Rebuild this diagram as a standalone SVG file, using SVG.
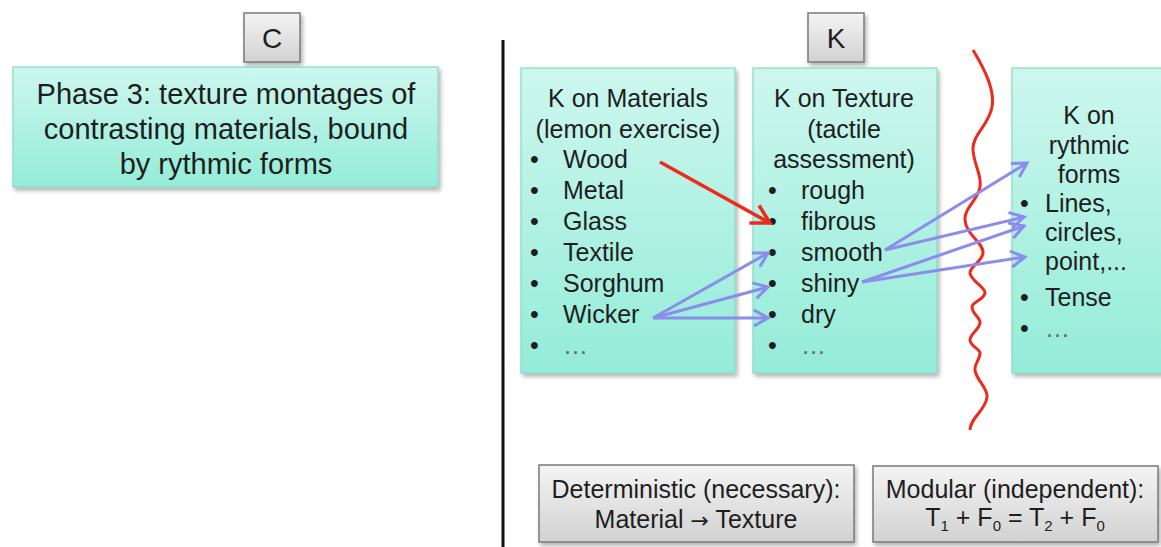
<svg xmlns="http://www.w3.org/2000/svg" width="1161" height="547" viewBox="0 0 1161 547">
<defs>
<linearGradient id="teal" x1="0" y1="0" x2="0" y2="1">
<stop offset="0" stop-color="#cdf7ee"/>
<stop offset="1" stop-color="#94ecd8"/>
</linearGradient>
<linearGradient id="gray" x1="0" y1="0" x2="0" y2="1">
<stop offset="0" stop-color="#f4f4f4"/>
<stop offset="1" stop-color="#d2d2d2"/>
</linearGradient>
<filter id="sh" x="-10%" y="-10%" width="130%" height="130%">
<feDropShadow dx="2" dy="3" stdDeviation="2" flood-color="#000" flood-opacity="0.3"/>
</filter>
<marker id="ab" viewBox="-20 -12 24 24" refX="0" refY="0" markerWidth="24" markerHeight="24" markerUnits="userSpaceOnUse" orient="auto">
<path d="M-14,-8 L0,0 L-14,8" fill="none" stroke="#8c8cec" stroke-width="3"/>
</marker>
<marker id="ar" viewBox="-24 -14 28 28" refX="0" refY="0" markerWidth="28" markerHeight="28" markerUnits="userSpaceOnUse" orient="auto">
<path d="M-18,-10 L0,0 L-18,10" fill="none" stroke="#ec2b1c" stroke-width="3.5"/>
</marker>
</defs>
<style>
.t{font-family:"Liberation Sans",Arial,sans-serif;fill:#1e1e1e}
.c{text-anchor:middle}
.teal{fill:url(#teal);stroke:#86d9c6;stroke-width:1.2;filter:url(#sh)}
.grey{fill:url(#gray);stroke:#7a7a7a;stroke-width:1.5;filter:url(#sh)}
.blue{fill:none;stroke:#8c8cec;stroke-width:3;marker-end:url(#ab)}
.dots{fill:#666}
</style>
<rect width="1161" height="547" fill="#fff"/>

<g id="c-label">
<rect class="grey" x="244" y="13" width="56" height="49"/>
<text class="t c" x="272" y="48" font-size="28">C</text>
</g>

<g id="phase3">
<rect class="teal" x="13" y="67" width="425" height="120"/>
<text class="t c" font-size="29"><tspan x="226" y="104">Phase 3: texture montages of</tspan><tspan x="226" y="139">contrasting materials, bound</tspan><tspan x="226" y="174">by rythmic forms</tspan></text>
</g>

<g id="divider">
<line x1="503" y1="40" x2="503" y2="547" stroke="#111" stroke-width="3"/>
</g>

<g id="k-label">
<rect class="grey" x="808" y="13" width="56" height="49"/>
<text class="t c" x="836" y="48" font-size="28">K</text>
</g>

<g id="materials">
<rect class="teal" x="521" y="68" width="214" height="305"/>
<text class="t c" font-size="25"><tspan x="628" y="107">K on Materials</tspan><tspan x="628" y="138">(lemon exercise)</tspan></text>
<text class="t" font-size="25">
<tspan x="530" y="168">•</tspan><tspan x="563" y="168">Wood</tspan>
<tspan x="530" y="199">•</tspan><tspan x="563" y="199">Metal</tspan>
<tspan x="530" y="230">•</tspan><tspan x="563" y="230">Glass</tspan>
<tspan x="530" y="261">•</tspan><tspan x="563" y="261">Textile</tspan>
<tspan x="530" y="292">•</tspan><tspan x="563" y="292">Sorghum</tspan>
<tspan x="530" y="323">•</tspan><tspan x="563" y="323">Wicker</tspan>
<tspan x="530" y="354">•</tspan><tspan x="563" y="354" class="dots">…</tspan>
</text>
</g>

<g id="texture">
<rect class="teal" x="753" y="68" width="184" height="305"/>
<text class="t c" font-size="25"><tspan x="844" y="107">K on Texture</tspan><tspan x="844" y="138">(tactile</tspan><tspan x="844" y="168">assessment)</tspan></text>
<text class="t" font-size="25">
<tspan x="768" y="199">•</tspan><tspan x="801" y="199">rough</tspan>
<tspan x="768" y="230">•</tspan><tspan x="801" y="230">fibrous</tspan>
<tspan x="768" y="261">•</tspan><tspan x="801" y="261">smooth</tspan>
<tspan x="768" y="292">•</tspan><tspan x="801" y="292">shiny</tspan>
<tspan x="768" y="323">•</tspan><tspan x="801" y="323">dry</tspan>
<tspan x="768" y="354">•</tspan><tspan x="801" y="354" class="dots">…</tspan>
</text>
</g>

<g id="forms">
<rect class="teal" x="1012" y="68" width="170" height="305"/>
<text class="t c" font-size="25"><tspan x="1089" y="124">K on</tspan><tspan x="1089" y="154">rythmic</tspan><tspan x="1089" y="183">forms</tspan></text>
<text class="t" font-size="25">
<tspan x="1020" y="212">•</tspan><tspan x="1045" y="212">Lines,</tspan>
<tspan x="1045" y="241">circles,</tspan>
<tspan x="1045" y="270">point,...</tspan>
<tspan x="1020" y="306">•</tspan><tspan x="1045" y="306">Tense</tspan>
<tspan x="1020" y="337">•</tspan><tspan x="1045" y="337" class="dots">…</tspan>
</text>
</g>

<g id="boundary">
<path d="M973,50 C985,70 995,90 992,107 C989,125 972,135 973,150 C974,165 982,175 980,187 C978,200 964,208 965,220 C966,235 984,243 983,253 C982,262 970,266 970,273 C970,280 986,288 985,293 C984,300 972,302 972,307 C972,314 981,318 980,323 C979,330 970,334 970,340 C970,346 980,349 980,353 C980,360 974,364 975,370 C976,380 988,388 987,397 C986,410 970,418 970,430" fill="none" stroke="#ec2b1c" stroke-width="3"/>
</g>

<g id="connectors">
<line x1="660" y1="162" x2="770" y2="223" fill="none" stroke="#ec2b1c" stroke-width="3.5" marker-end="url(#ar)"/>
<line class="blue" x1="653" y1="318" x2="768" y2="253"/>
<line class="blue" x1="653" y1="318" x2="768" y2="287"/>
<line class="blue" x1="653" y1="318" x2="768" y2="318"/>
<line class="blue" x1="885" y1="250" x2="1027" y2="163"/>
<line class="blue" x1="885" y1="250" x2="1024" y2="217"/>
<line class="blue" x1="862" y1="282" x2="1024" y2="226"/>
<line class="blue" x1="862" y1="282" x2="1025" y2="257"/>
</g>

<g id="deterministic">
<rect class="grey" x="539" y="465" width="315" height="77"/>
<text class="t c" font-size="25"><tspan x="696" y="498">Deterministic (necessary):</tspan><tspan x="696" y="528">Material <tspan font-family="'DejaVu Sans',sans-serif" font-size="22">→</tspan> Texture</tspan></text>
</g>

<g id="modular">
<rect class="grey" x="873" y="466" width="285" height="76"/>
<text class="t c" font-size="25"><tspan x="1015" y="498">Modular (independent):</tspan><tspan x="1015" y="526">T<tspan font-size="15" dy="5">1</tspan><tspan dy="-5"> + F</tspan><tspan font-size="15" dy="5">0</tspan><tspan dy="-5"> = T</tspan><tspan font-size="15" dy="5">2</tspan><tspan dy="-5"> + F</tspan><tspan font-size="15" dy="5">0</tspan></tspan></text>
</g>
</svg>
